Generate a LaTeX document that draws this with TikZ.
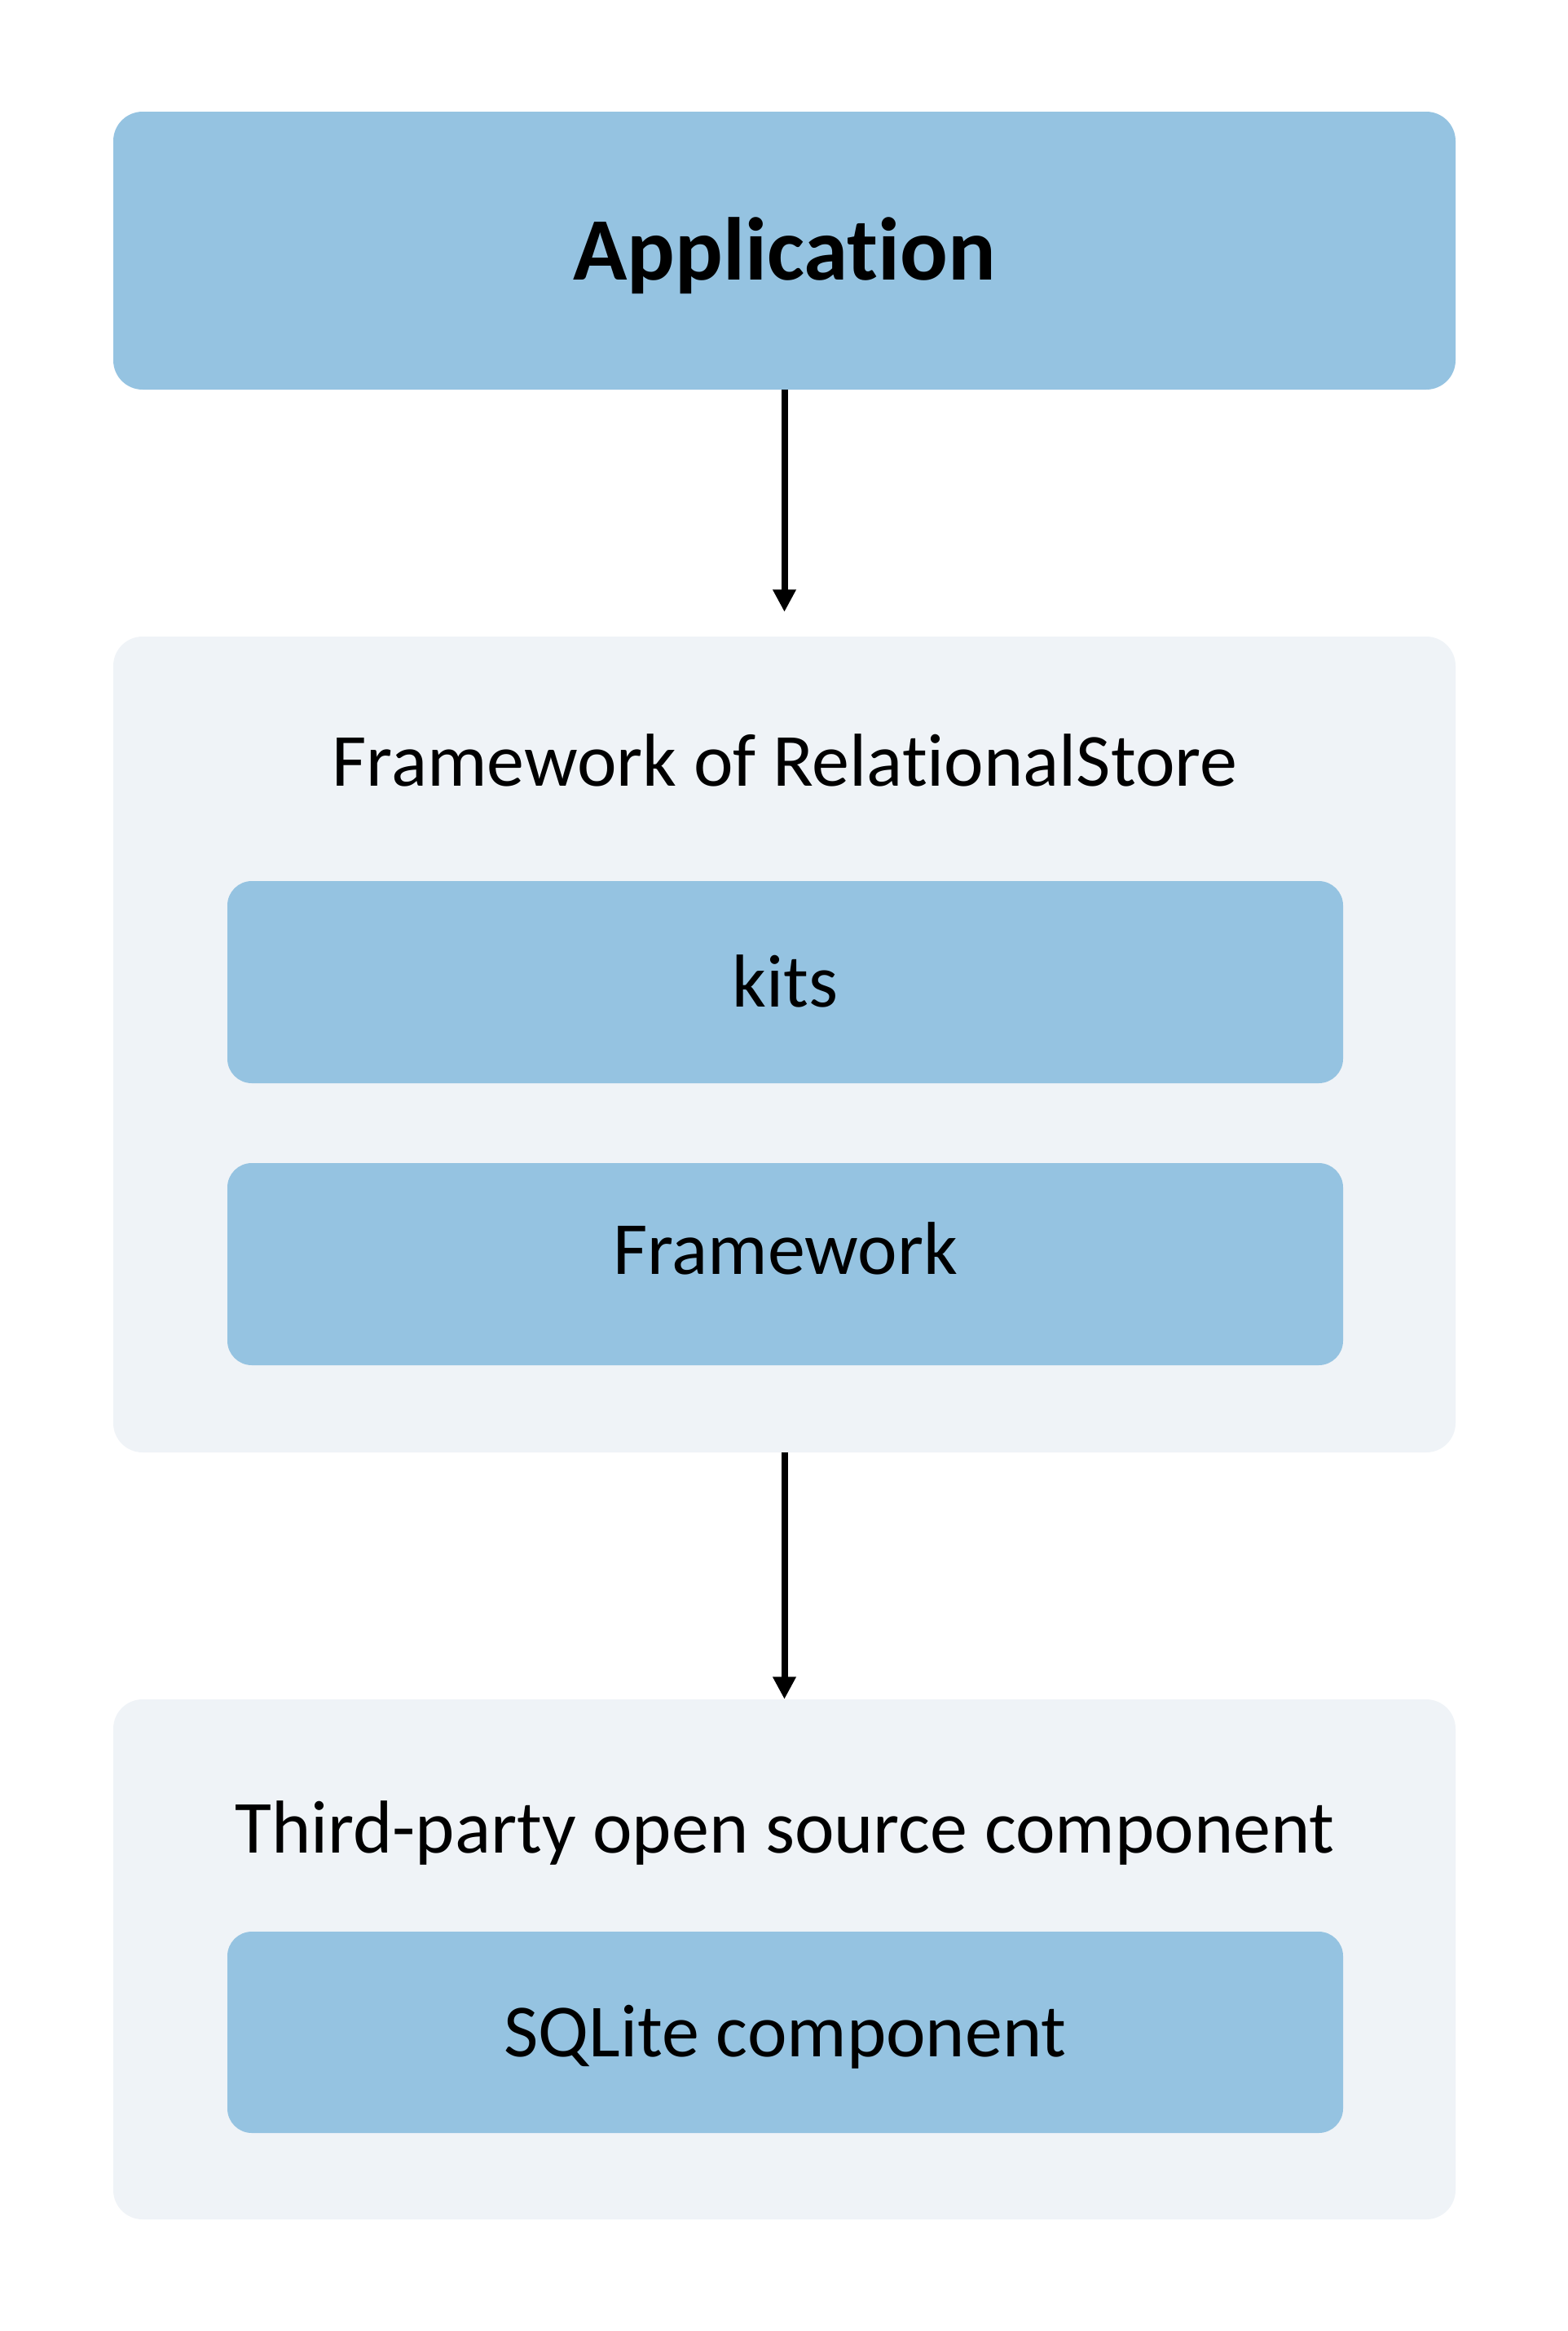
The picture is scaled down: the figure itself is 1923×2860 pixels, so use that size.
\documentclass[tikz,border=0pt]{standalone}
\usepackage{fontspec}
\setmainfont{Carlito}[Ligatures={NoCommon}]
\usetikzlibrary{arrows.meta}
\definecolor{boxblue}{RGB}{149,195,225}
\definecolor{contgray}{RGB}{239,243,247}
\begin{document}
\begin{tikzpicture}[x=1pt,y=-1pt,
  txt/.style={font=\fontsize{92}{100}\selectfont},
  bluebox/.style={fill=boxblue,rounded corners=30pt,inner sep=0pt,text depth=0pt,txt,text height=#1},
  container/.style={fill=contgray,rounded corners=36pt,inner sep=0pt,minimum width=1647pt},
  title/.style={txt,anchor=base,inner sep=0pt},
  conn/.style={line width=8pt,-{Triangle[length=27.5pt,width=27pt]}}]
\useasboundingbox (0,0) rectangle (1923,2860);
\node[bluebox=71pt,rounded corners=36pt,minimum width=1647pt,minimum height=341pt,font=\fontsize{109.5}{120}\selectfont\bfseries] (app) at (962.5,307.5) {Application};
\node[container,minimum height=1001pt] (fw) at (962.5,1281.5) {};
\node[title] (fwt) at (963,964) {Framework of RelationalStore};
\node[bluebox=60pt,minimum width=1369pt,minimum height=248pt] (kits) at (963.5,1205) {kits};
\node[bluebox=24pt,minimum width=1369pt,minimum height=248pt] (frm) at (963.5,1551) {Framework};
\node[container,minimum height=638pt] (tp) at (962.5,2404) {};
\node[title] (tpt) at (963,2273.5) {Third-party open source component};
\node[bluebox=59pt,minimum width=1369pt,minimum height=247pt] (sql) at (963.5,2493.5) {SQLite component};
\draw[conn,shorten >=30pt] (app.south) -- (fw.north);
\draw[conn] (fw.south) -- (tp.north);
\end{tikzpicture}
\end{document}
